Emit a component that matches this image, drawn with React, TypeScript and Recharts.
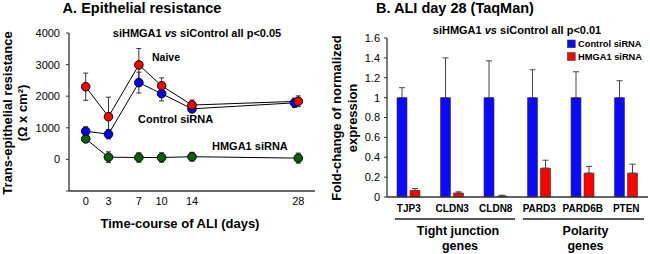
import React from 'react';
import { LineChart, Line, XAxis, YAxis, ErrorBar, BarChart, Bar } from 'recharts';

// ---- Panel A data ----
const days = [0, 3, 7, 10, 14, 28];
const controlDays = [0, 3, 7, 10, 14, 27.5];
const naiveValues = [2300, 1350, 2990, 2330, 1720, 1840];
const naiveErrors = [430, 620, 520, 250, 160, 170];
const controlValues = [890, 800, 2430, 2080, 1600, 1790];
const controlErrors = [140, 150, 330, 230, 100, 150];
const hmgaValues = [650, 70, 60, 60, 85, 40];
const hmgaErrors = [100, 170, 150, 150, 140, 160];
const yTicksA = [-1000, 0, 1000, 2000, 3000, 4000];

// ---- Panel B data ----
const genes = ['TJP3', 'CLDN3', 'CLDN8', 'PARD3', 'PARD6B', 'PTEN'];
const controlFold = [1, 1, 1, 1, 1, 1];
const controlFoldErr = [0.1, 0.4, 0.37, 0.28, 0.26, 0.17];
const hmgaFold = [0.065, 0.04, 0.01, 0.29, 0.24, 0.24];
const hmgaFoldErr = [0.02, 0.012, 0.008, 0.08, 0.068, 0.09];
const yTicksB = [0, 0.2, 0.4, 0.6, 0.8, 1, 1.2, 1.4, 1.6];

const FONT = '"Liberation Sans", Arial, sans-serif';

const mk = (xs: number[], ys: number[], es: number[]) =>
  xs.map((x, i) => ({ x, y: ys[i], e: es[i] }));

const naiveData = mk(days, naiveValues, naiveErrors);
const controlData = mk(controlDays, controlValues, controlErrors);
const hmgaData = mk(days, hmgaValues, hmgaErrors);

const barData = genes.map((g, i) => ({
  gene: g,
  control: controlFold[i],
  controlErr: [0, controlFoldErr[i]],
  hmga: hmgaFold[i],
  hmgaErr: [0, hmgaFoldErr[i]],
}));

const axisStroke = '#333';

export default function App() {
  return (
    <div style={{ position: 'absolute', left: 0, top: 0, width: 650, height: 254, background: '#fff', fontFamily: FONT }}>
      <div style={{ position: 'absolute', left: 0, top: 0 }}>
        <LineChart width={330} height={254} margin={{ top: 33, right: 15, bottom: 0, left: 0 }}>
          <XAxis
            type="number"
            dataKey="x"
            domain={[-2.2, 30.2]}
            ticks={days}
            allowDataOverflow
            height={63}
            tickLine={false}
            tickSize={0}
            tickMargin={6}
            axisLine={{ stroke: axisStroke, strokeWidth: 1.3 }}
            tick={{ fill: '#000', fontSize: 11, fontFamily: FONT }}
          />
          <YAxis
            type="number"
            domain={[-1000, 4000]}
            ticks={yTicksA}
            width={69}
            tickSize={3}
            tickMargin={6}
            tickFormatter={(v: number) => (v < 0 ? '' : String(v))}
            axisLine={{ stroke: axisStroke, strokeWidth: 1.3 }}
            tickLine={{ stroke: axisStroke, strokeWidth: 1 }}
            tick={{ fill: '#000', fontSize: 11, fontFamily: FONT }}
          />
          <Line
            data={hmgaData}
            dataKey="y"
            stroke="#000"
            strokeWidth={1}
            isAnimationActive={false}
            dot={{ r: 4.3, fill: '#006400', stroke: '#000', strokeWidth: 1 }}
          >
            <ErrorBar dataKey="e" direction="y" width={2.5} stroke="#333" strokeWidth={1} />
          </Line>
          <Line
            data={controlData}
            dataKey="y"
            stroke="#000"
            strokeWidth={1}
            isAnimationActive={false}
            dot={{ r: 4.3, fill: '#0000ff', stroke: '#000', strokeWidth: 1 }}
          >
            <ErrorBar dataKey="e" direction="y" width={2.5} stroke="#333" strokeWidth={1} />
          </Line>
          <Line
            data={naiveData}
            dataKey="y"
            stroke="#000"
            strokeWidth={1}
            isAnimationActive={false}
            dot={{ r: 4.3, fill: '#ff0000', stroke: '#000', strokeWidth: 1 }}
          >
            <ErrorBar dataKey="e" direction="y" width={2.5} stroke="#333" strokeWidth={1} />
          </Line>
        </LineChart>
      </div>
      <div style={{ position: 'absolute', left: 330, top: 0 }}>
        <BarChart width={320} height={254} data={barData} margin={{ top: 38, right: 2, bottom: 0, left: 0 }} barSize={10} barGap={3}>
          <XAxis
            dataKey="gene"
            height={57}
            tickLine={false}
            tickSize={0}
            tickMargin={7.5}
            interval={0}
            axisLine={{ stroke: axisStroke, strokeWidth: 1.3 }}
            tick={{ fill: '#000', fontSize: 10, fontWeight: 'bold', fontFamily: FONT }}
          />
          <YAxis
            type="number"
            domain={[0, 1.6]}
            ticks={yTicksB}
            width={57}
            tickSize={3}
            tickMargin={4}
            axisLine={{ stroke: axisStroke, strokeWidth: 1.3 }}
            tickLine={{ stroke: axisStroke, strokeWidth: 1 }}
            tick={{ fill: '#000', fontSize: 11, fontFamily: FONT }}
          />
          <Bar dataKey="control" fill="#0a0aff" stroke="#333" strokeWidth={0.6} isAnimationActive={false}>
            <ErrorBar dataKey="controlErr" direction="y" width={3} stroke="#444" strokeWidth={1} />
          </Bar>
          <Bar dataKey="hmga" fill="#ff0000" stroke="#333" strokeWidth={0.6} isAnimationActive={false}>
            <ErrorBar dataKey="hmgaErr" direction="y" width={3} stroke="#444" strokeWidth={1} />
          </Bar>
        </BarChart>
      </div>
      <svg width={650} height={254} style={{ position: 'absolute', left: 0, top: 0, pointerEvents: 'none' }} fontFamily={FONT}>
        {/* Panel A texts */}
        <text x={142} y={12.5} fontSize={14.5} fontWeight="bold" textAnchor="middle">A. Epithelial resistance</text>
        <text x={197} y={36.5} fontSize={11} fontWeight="bold" textAnchor="middle">
          siHMGA1 <tspan fontStyle="italic">vs</tspan> siControl all p&lt;0.05
        </text>
        <text x={152} y={61} fontSize={10.5} fontWeight="bold">Naive</text>
        <text x={138} y={122.7} fontSize={11} fontWeight="bold">Control siRNA</text>
        <text x={212} y={150} fontSize={11} fontWeight="bold">HMGA1 siRNA</text>
        <text x={180} y={228.3} fontSize={13} fontWeight="bold" textAnchor="middle">Time-course of ALI (days)</text>
        <text x={0} y={0} fontSize={13} fontWeight="bold" textAnchor="middle" transform="translate(12,113) rotate(-90)">Trans-epithelial resistance</text>
        <text x={0} y={0} fontSize={13} fontWeight="bold" textAnchor="middle" transform="translate(27,113) rotate(-90)">(Ω x cm²)</text>
        {/* Panel B texts */}
        <text x={455} y={12.5} fontSize={14.5} fontWeight="bold" textAnchor="middle">B. ALI day 28 (TaqMan)</text>
        <text x={517} y={34} fontSize={11} fontWeight="bold" textAnchor="middle">
          siHMGA1 <tspan fontStyle="italic">vs</tspan> siControl all p&lt;0.01
        </text>
        <rect x={567.5} y={40} width={7.7} height={7.7} fill="#0a0aff" stroke="#333" strokeWidth={0.6} />
        <text x={578} y={47} fontSize={9.3} fontWeight="bold">Control siRNA</text>
        <rect x={567.5} y={52.7} width={7.7} height={7.7} fill="#ff0000" stroke="#333" strokeWidth={0.6} />
        <text x={578} y={59.7} fontSize={9.3} fontWeight="bold">HMGA1 siRNA</text>
        <text x={0} y={0} fontSize={13} fontWeight="bold" textAnchor="middle" transform="translate(341,118) rotate(-90)">Fold-change of normalized</text>
        <text x={0} y={0} fontSize={13} fontWeight="bold" textAnchor="middle" transform="translate(357,118) rotate(-90)">expression</text>
        <line x1={395} y1={219} x2={515} y2={219} stroke="#555" strokeWidth={2} />
        <line x1={523} y1={219} x2={644} y2={219} stroke="#555" strokeWidth={2} />
        <text x={458} y={235} fontSize={12.5} fontWeight="bold" textAnchor="middle">Tight junction</text>
        <text x={460} y={249.5} fontSize={12.5} fontWeight="bold" textAnchor="middle">genes</text>
        <text x={585.5} y={235} fontSize={12.5} fontWeight="bold" textAnchor="middle">Polarity</text>
        <text x={585.5} y={249.5} fontSize={12.5} fontWeight="bold" textAnchor="middle">genes</text>
      </svg>
    </div>
  );
}
